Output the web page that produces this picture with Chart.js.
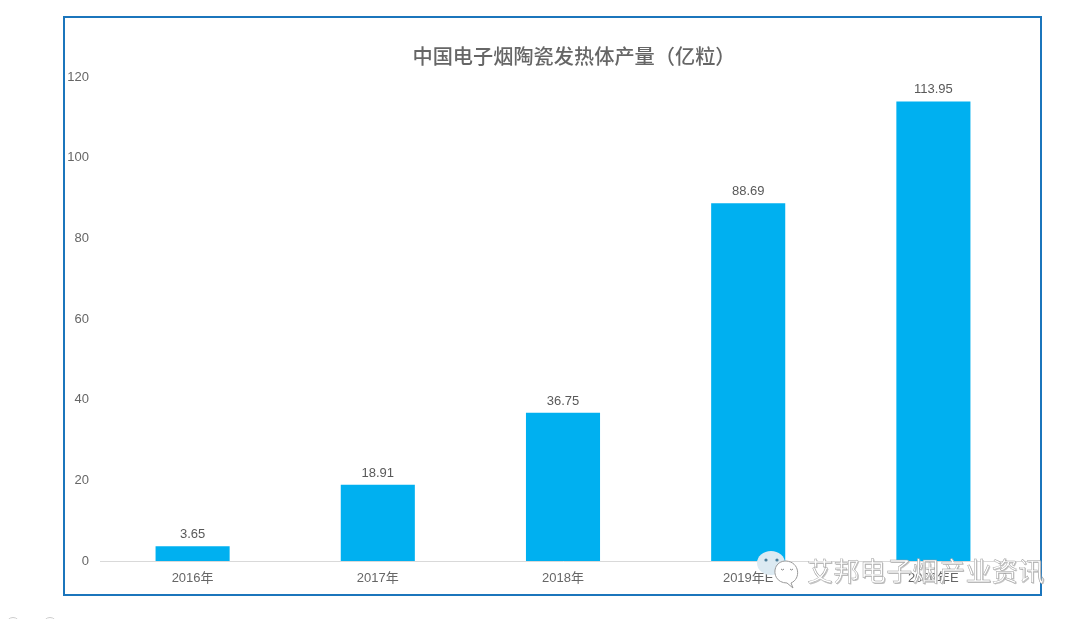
<!DOCTYPE html>
<html>
<head>
<meta charset="utf-8">
<style>
    html, body { margin: 0; padding: 0; background: #fff; overflow: hidden; }
    #wrap { position: relative; width: 1080px; height: 619px; overflow: hidden; }
    #frame { position: absolute; left: 63px; top: 16px; width: 975px; height: 576px; border: 2px solid #1b75bc; }
    canvas { position: absolute; left: 0; top: 0; }
    #mark { position: absolute; left: 757px; top: 550px; width: 300px; height: 42px; }
    #mark span { position: absolute; left: 50px; top: 1px; font: 26px "Noto Sans CJK SC", sans-serif; letter-spacing: 0.4px; white-space: nowrap;
        color: #fff; -webkit-text-stroke: 0.45px #9a9a9a; text-shadow: 1px 1px 0 #c4c4c4; }
    #mark svg { position: absolute; left: 0; top: 0; }
    .dot { position: absolute; top: 617px; width: 12px; height: 12px; border-radius: 50%; border: 1px solid #ccc; }
</style>
</head>
<body>
<div id="wrap">
    <div id="frame"></div>
    <canvas id="chart" width="1080" height="619"></canvas>
    <div class="dot" style="left:6px"></div>
    <div class="dot" style="left:43px"></div>
    <div id="mark">
        <svg width="46" height="42" viewBox="0 0 46 42">
            <ellipse cx="14" cy="13" rx="14" ry="12" fill="#dceaf2"/>
            <circle cx="9" cy="10" r="1.6" fill="#4b7d99"/><circle cx="20" cy="10" r="1.6" fill="#4b7d99"/>
            <path d="M36 38 L34 33 C44 29 43 12 29 11 C14 11 14 33 30 33 Z" fill="#fff" stroke="#999" stroke-width="1"/>
            <path d="M24 19 q1.5 2 3 0 M33 19 q1.5 2 3 0" fill="none" stroke="#888" stroke-width="1"/>
        </svg>
        <span>艾邦电子烟产业资讯</span>
    </div>
</div>
<script src="https://cdn.jsdelivr.net/npm/chart.js@4/dist/chart.umd.min.js"></script>
<script>
const titleText = '中国电子烟陶瓷发热体产量（亿粒）';
const years = ['2016年', '2017年', '2018年', '2019年E', '2020年E'];
const output = [3.65, 18.91, 36.75, 88.69, 113.95];
const outputLabels = ['3.65', '18.91', '36.75', '88.69', '113.95'];

const fontFamily = '"Liberation Sans", "Noto Sans CJK SC", sans-serif';

// titre et valeurs au-dessus des barres
const labelsPlugin = {
    id: 'labelsPlugin',
    afterDatasetsDraw(chart) {
        const ctx = chart.ctx;
        ctx.save();
        ctx.textAlign = 'center';
        ctx.textBaseline = 'alphabetic';
        ctx.fillStyle = '#595959';
        ctx.font = '13px ' + fontFamily;
        chart.getDatasetMeta(0).data.forEach((bar, i) => {
            ctx.fillText(outputLabels[i], bar.x, bar.y - 8);
        });
        ctx.fillStyle = '#666';
        ctx.font = '500 20.2px "Noto Sans CJK SC", sans-serif';
        ctx.fillText(titleText, 574, 64);
        ctx.restore();
    }
};

new Chart(document.getElementById('chart'), {
    type: 'bar',
    data: {
        labels: years,
        datasets: [{
            data: output,
            backgroundColor: '#00b0f0',
            barPercentage: 0.4,
            categoryPercentage: 1
        }]
    },
    options: {
        responsive: false,
        animation: false,
        layout: { padding: { left: 64, right: 54, top: 77, bottom: 24 } },
        plugins: { legend: { display: false }, title: { display: false }, tooltip: { enabled: false } },
        scales: {
            x: {
                afterFit(scale) { scale.height = 34; },
                grid: { display: false, drawTicks: false },
                border: { color: '#d9d9d9' },
                ticks: { color: '#666', padding: 10, maxRotation: 0, font: { size: 13, family: fontFamily } }
            },
            y: {
                min: 0,
                max: 120,
                afterFit(scale) { scale.width = 36; },
                grid: { display: false, drawTicks: false },
                border: { display: false },
                ticks: { color: '#666', padding: 11, stepSize: 20, font: { size: 13, family: fontFamily } }
            }
        }
    },
    plugins: [labelsPlugin]
});
</script>
</body>
</html>
